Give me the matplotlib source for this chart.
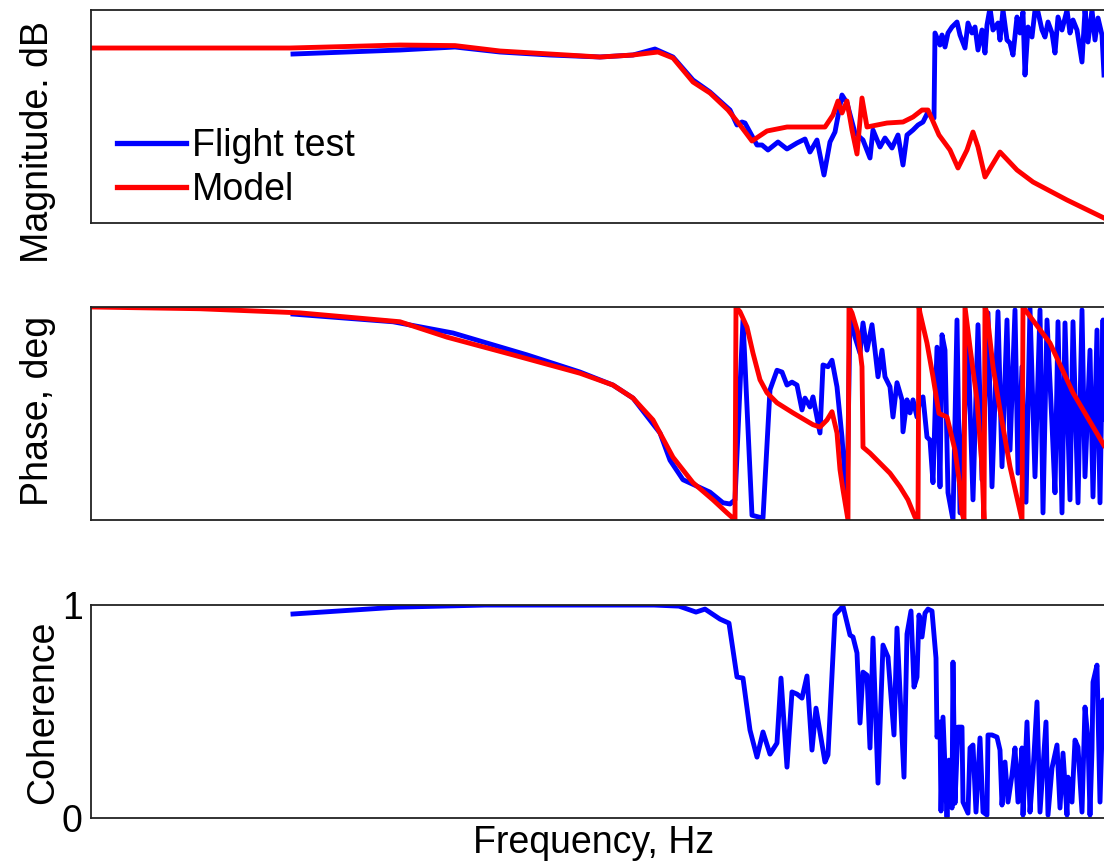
import numpy as np
import matplotlib
matplotlib.use('Agg')
from matplotlib import pyplot as plt

plt.rcParams['font.family'] = ['Liberation Sans', 'DejaVu Sans']

# frequencies are stored as log10(Hz)
# --- magnitude, dB ---
mag_model_logf = [-1.0, -0.7275, -0.5025, -0.3525, -0.2275, -0.09, 0.0225, 0.1475, 0.2725, 0.355,
                  0.4175, 0.455, 0.505, 0.5475, 0.5925, 0.6225, 0.6525, 0.69, 0.74, 0.835,
                  0.855, 0.8675, 0.8775, 0.89, 0.9025, 0.915, 0.9275, 0.94, 0.99, 1.03,
                  1.055, 1.0775, 1.0925, 1.12, 1.1475, 1.1675, 1.19, 1.205, 1.2175, 1.235,
                  1.2725, 1.315, 1.355, 1.44, 1.5325]
mag_model = [-9.5, -9.5, -9.5, -9.1, -8.75, -8.9, -10.25, -11.0, -11.75, -11.25,
             -10.5, -12.0, -18.0, -20.75, -25.0, -28.75, -32.75, -30.25, -29.25, -29.25,
             -26.25, -22.75, -25.75, -22.75, -30.0, -36.0, -22.0, -29.25, -28.25, -28.0,
             -26.75, -25.0, -25.0, -31.25, -35.0, -39.5, -35.0, -30.5, -34.25, -41.75,
             -35.5, -40.0, -43.0, -47.5, -52.0]

mag_test_logf = [-0.495, -0.2275, -0.09, 0.0225, 0.1475, 0.2725, 0.355, 0.41, 0.455, 0.505,
                 0.5475, 0.5975, 0.615, 0.6275, 0.635, 0.665, 0.6775, 0.6925, 0.7175, 0.74,
                 0.765, 0.785, 0.7975, 0.815, 0.8325, 0.8475, 0.86, 0.8775, 0.89, 0.91,
                 0.93, 0.9475, 0.955, 0.9725, 0.985, 1.0025, 1.0175, 1.03, 1.04, 1.055,
                 1.0675, 1.08, 1.0925, 1.1025, 1.1075, 1.11, 1.1225, 1.1275, 1.135, 1.1425,
                 1.1525, 1.165, 1.1725, 1.185, 1.1925, 1.2025, 1.21, 1.2175, 1.2275, 1.235,
                 1.24, 1.2475, 1.255, 1.2675, 1.2725, 1.28, 1.29, 1.2975, 1.305, 1.315,
                 1.3225, 1.33, 1.335, 1.3425, 1.3525, 1.36, 1.3675, 1.3775, 1.385, 1.3925,
                 1.4025, 1.41, 1.4175, 1.4275, 1.44, 1.4475, 1.455, 1.465, 1.4775, 1.485,
                 1.4925, 1.5025, 1.51, 1.5175, 1.5275, 1.5325]
mag_test = [-11.0, -10.0, -9.25, -10.5, -11.25, -11.75, -11.25, -9.75, -11.75, -17.5,
            -20.5, -25.0, -28.75, -28.0, -28.25, -33.75, -33.75, -35.0, -33.0, -34.75,
            -33.25, -32.25, -35.5, -32.5, -41.25, -33.0, -30.5, -21.25, -23.25, -30.75,
            -32.5, -37.0, -30.0, -34.25, -32.0, -34.5, -31.25, -38.75, -31.25, -30.0,
            -28.75, -28.0, -25.5, -27.0, -27.0, -5.75, -8.75, -6.25, -9.25, -5.75,
            -4.25, -3.0, -6.25, -9.5, -3.25, -5.75, -4.25, -10.0, -5.0, -10.75,
            -3.75, 0.5, -5.0, -3.25, -7.5, 0.0, -7.5, -8.25, -11.25, -1.75,
            -5.75, -0.5, -16.25, -4.25, -6.75, 0.0, -0.5, -5.0, -6.75, -3.0,
            -5.75, -10.75, -1.75, -5.0, 0.0, -5.75, -2.5, -5.0, -13.0, 0.0,
            -8.0, 0.0, -7.5, -2.0, -6.25, -16.25]

# --- phase, deg (wrapped to +-180) ---
ph_model_logf = [-1.0, -0.7275, -0.4775, -0.2275, -0.11, 0.055, 0.2225, 0.305, 0.355, 0.405,
                 0.455, 0.505, 0.555, 0.59, 0.61, 0.6125, 0.6225, 0.64, 0.655, 0.6725,
                 0.69, 0.715, 0.755, 0.805, 0.8225, 0.84, 0.8525, 0.865, 0.8725, 0.88,
                 0.8925, 0.895, 0.9025, 0.9175, 0.9275, 0.93, 0.9475, 0.9725, 0.9975, 1.0225,
                 1.0425, 1.06, 1.0675, 1.07, 1.0725, 1.09, 1.105, 1.12, 1.14, 1.16,
                 1.1725, 1.1775, 1.1825, 1.185, 1.1975, 1.215, 1.2275, 1.2325, 1.235, 1.24,
                 1.255, 1.2725, 1.2975, 1.3275, 1.33, 1.3975, 1.455, 1.5325]
ph_model = [180, 177, 170, 155, 129, 99, 68, 48, 26, -11,
            -74, -117, -146, -168, -180, 180, 172, 146, 102, 57,
            35, 18, 1, -19, -23, -11, 3, -33, -95, -129,
            -180, 180, 170, 136, 79, -57, -67, -84, -101, -124,
            -146, -175, -180, 180, 170, 119, 62, 0, -6, -62,
            -124, -168, -180, 180, 112, 23, -90, -180, 180, 170,
            79, 6, -90, -180, 180, 119, 35, -54]

ph_test_logf = [-0.495, -0.245, -0.095, 0.09, 0.2225, 0.305, 0.355, 0.4225, 0.4475, 0.48,
                0.5475, 0.58, 0.5975, 0.61, 0.63, 0.6525, 0.68, 0.6975, 0.715, 0.7275,
                0.74, 0.7525, 0.765, 0.7775, 0.785, 0.7975, 0.805, 0.8225, 0.83, 0.8425,
                0.8525, 0.865, 0.8775, 0.89, 0.8975, 0.91, 0.9225, 0.93, 0.94, 0.9525,
                0.96, 0.9675, 0.9775, 0.985, 0.9975, 1.005, 1.015, 1.0275, 1.03, 1.04,
                1.0475, 1.055, 1.065, 1.0725, 1.08, 1.09, 1.0975, 1.105, 1.115, 1.1225,
                1.1275, 1.135, 1.1425, 1.155, 1.165, 1.1725, 1.1925, 1.205, 1.2175, 1.2275,
                1.2425, 1.2525, 1.2675, 1.2775, 1.29, 1.2975, 1.31, 1.3175, 1.3275, 1.3375,
                1.3475, 1.36, 1.3725, 1.38, 1.39, 1.4025, 1.41, 1.4175, 1.4275, 1.435,
                1.4475, 1.455, 1.4675, 1.4775, 1.485, 1.4975, 1.505, 1.515, 1.5225, 1.53,
                1.5325]
ph_test = [168, 155, 136, 99, 70, 48, 26, -33, -79, -112,
           -133, -151, -153, -146, 158, -172, -177, 40, 73, 70,
           48, 53, 48, 6, 26, 11, 28, -33, 82, 79,
           90, 45, -40, -158, 167, 129, 102, 153, 107, 150,
           107, 62, 107, 62, 45, -6, 52, 23, -31, 23,
           1, 23, -6, 23, 28, -40, -45, -117, 112, -124,
           133, 107, -134, -180, 158, -168, 119, -146, 150, -112,
           170, -124, 172, -90, 158, -62, 175, -101, 79, -150,
           178, -107, 175, -168, 158, -18, -134, 155, -168, 153,
           -146, 155, -151, 175, -107, 107, -141, 141, -151, 158,
           -10]

# --- coherence ---
coh_logf = [-0.495, -0.235, -0.015, 0.165, 0.4075, 0.47, 0.5125, 0.535, 0.5725, 0.595,
            0.615, 0.63, 0.6475, 0.665, 0.68, 0.6975, 0.715, 0.725, 0.74, 0.7525,
            0.765, 0.7775, 0.79, 0.8025, 0.8125, 0.835, 0.8425, 0.86, 0.88, 0.8975,
            0.905, 0.915, 0.9225, 0.93, 0.94, 0.9475, 0.955, 0.9675, 0.98, 0.9925,
            1.0075, 1.015, 1.0325, 1.04, 1.05, 1.0575, 1.065, 1.07, 1.0775, 1.085,
            1.0925, 1.1025, 1.1125, 1.115, 1.1225, 1.125, 1.13, 1.14, 1.145, 1.1525,
            1.155, 1.16, 1.1675, 1.1775, 1.18, 1.1925, 1.1975, 1.205, 1.2125, 1.2225,
            1.23, 1.24, 1.2425, 1.2525, 1.265, 1.2725, 1.2775, 1.285, 1.2925, 1.3025,
            1.31, 1.3175, 1.3275, 1.33, 1.34, 1.3475, 1.355, 1.365, 1.3725, 1.3875,
            1.3925, 1.4025, 1.415, 1.4225, 1.43, 1.44, 1.4425, 1.4525, 1.46, 1.4675,
            1.4775, 1.485, 1.4925, 1.4975, 1.5025, 1.505, 1.515, 1.5225, 1.53, 1.5325]
coh = [0.958, 0.99, 1.0, 1.0, 1.0, 0.995, 0.967, 0.981, 0.934, 0.915,
       0.662, 0.657, 0.413, 0.286, 0.404, 0.3, 0.352, 0.657, 0.239, 0.592,
       0.582, 0.563, 0.667, 0.319, 0.516, 0.263, 0.296, 0.953, 0.995, 0.859,
       0.85, 0.775, 0.446, 0.685, 0.671, 0.329, 0.845, 0.164, 0.812, 0.756,
       0.39, 0.892, 0.192, 0.864, 0.972, 0.615, 0.662, 0.953, 0.85, 0.962,
       0.981, 0.972, 0.751, 0.38, 0.451, 0.033, 0.474, 0.005, 0.272, 0.047,
       0.732, 0.07, 0.427, 0.427, 0.075, 0.023, 0.329, 0.343, 0.028, 0.376,
       0.028, 0.014, 0.39, 0.39, 0.38, 0.319, 0.061, 0.263, 0.075, 0.202,
       0.329, 0.075, 0.329, 0.014, 0.451, 0.028, 0.216, 0.545, 0.028, 0.451,
       0.014, 0.235, 0.343, 0.047, 0.305, 0.014, 0.192, 0.075, 0.366, 0.333,
       0.028, 0.521, 0.366, 0.014, 0.319, 0.638, 0.718, 0.075, 0.554, 0.357]


def hz(logf):
    return 10 ** np.array(logf)


fig = plt.figure(figsize=(11.04, 8.63), dpi=100)
left, width, height = 0.0824, 0.9176, 0.2468
ax1 = fig.add_axes([left, 0.7416, width, height])
ax2 = fig.add_axes([left, 0.3975, width, height])
ax3 = fig.add_axes([left, 0.0521, width, height])

lw = 3.5
ax1.plot(hz(mag_test_logf), mag_test, color='#0000ff', lw=lw, label='Flight test')
ax1.plot(hz(mag_model_logf), mag_model, color='#ff0000', lw=lw, label='Model')
ax2.plot(hz(ph_test_logf), ph_test, color='#0000ff', lw=lw)
ax2.plot(hz(ph_model_logf), ph_model, color='#ff0000', lw=lw)
ax3.plot(hz(coh_logf), coh, color='#0000ff', lw=lw)

ax1.set_ylim(-53.25, 0)
ax2.set_ylim(-180, 180)
ax3.set_ylim(0, 1)

for ax in (ax1, ax2, ax3):
    ax.set_xscale('log')
    ax.set_xlim(10 ** -1.0, 10 ** 1.5325)
    ax.set_xticks([])
    ax.set_xticks([], minor=True)
    ax.tick_params(which='both', length=0)
    ax.spines['right'].set_visible(False)
    for s in ('left', 'top', 'bottom'):
        ax.spines[s].set_linewidth(1.3)
        ax.spines[s].set_color('#222222')

ax1.set_yticks([])
ax2.set_yticks([])
ax3.set_yticks([0, 1])
ax3.set_yticklabels(['0', '1'])
ax3.tick_params(axis='y', labelsize=27, pad=6)

leg = ax1.legend(loc='center left', bbox_to_anchor=(0.0256, 0.258), frameon=False,
                 fontsize=27, handlelength=1.85, handletextpad=0.15, labelspacing=0.2,
                 borderpad=0, borderaxespad=0)
for h in leg.get_lines():
    h.set_linewidth(3.8)

fig.text(0.0344, 0.8355, 'Magnitude. dB', rotation=90, ha='center', va='center', fontsize=27)
fig.text(0.0344, 0.5238, 'Phase, deg', rotation=90, ha='center', va='center', fontsize=27)
fig.text(0.039, 0.175, 'Coherence', rotation=90, ha='center', va='center', fontsize=27)
fig.text(0.538, 0.023, 'Frequency, Hz', ha='center', va='center', fontsize=27)

fig.savefig('out.png', dpi=100)
